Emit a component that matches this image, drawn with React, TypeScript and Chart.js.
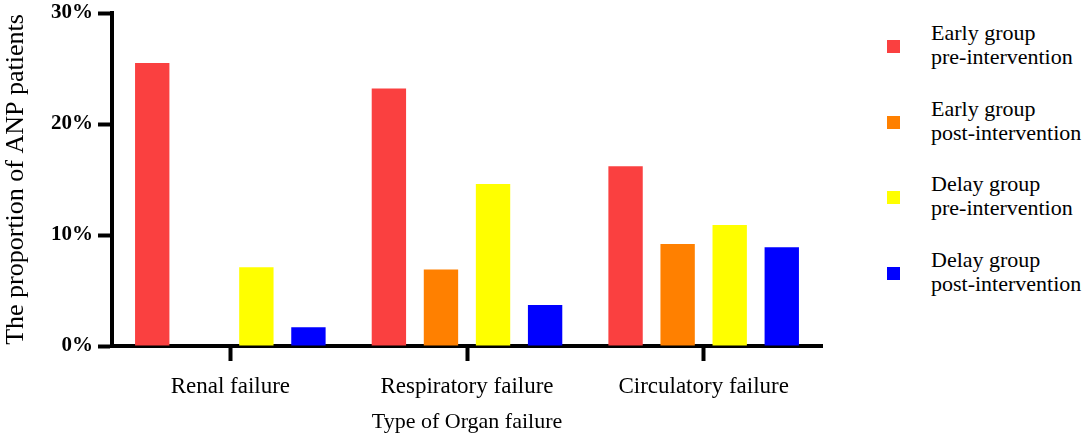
import { useRef, useEffect } from "react";
import Chart from "chart.js/auto";

const categories = ["Renal failure", "Respiratory failure", "Circulatory failure"];
const seriesNames = [
  ["Early group", "pre-intervention"],
  ["Early group", "post-intervention"],
  ["Delay group", "pre-intervention"],
  ["Delay group", "post-intervention"],
];
const earlyPre = [25.5, 23.2, 16.2];
const earlyPost = [0, 6.9, 9.2];
const delayPre = [7.1, 14.6, 10.9];
const delayPost = [1.7, 3.7, 8.9];
const yTicks = [0, 10, 20, 30];
const colors = ["#FA4040", "#FF8000", "#FFFF00", "#0000FF"];

const serif = "Liberation Serif";

const App = () => {
  const chartRef = useRef<HTMLCanvasElement>(null);

  useEffect(() => {
    const values = [earlyPre, earlyPost, delayPre, delayPost];
    const myChart = new Chart(chartRef.current!, {
      type: "bar",
      data: {
        labels: categories,
        datasets: values.map((v, i) => ({
          label: seriesNames[i].join(" "),
          data: v,
          backgroundColor: colors[i],
          barPercentage: 0.66,
          categoryPercentage: 0.88,
        })),
      },
      options: {
        animation: false,
        responsive: false,
        maintainAspectRatio: false,
        layout: { padding: { top: 13, right: 18, left: 0, bottom: 0 } },
        plugins: { legend: { display: false }, tooltip: { enabled: false } },
        scales: {
          x: {
            afterFit: (s: any) => {
              s.height = 90;
            },
            grid: {
              offset: false,
              drawOnChartArea: false,
              tickLength: 15,
              tickWidth: 4,
              tickColor: "#000",
            },
            border: { color: "#000", width: 4 },
            ticks: {
              color: "#000",
              padding: 12,
              font: { family: serif, size: 23 },
            },
            title: {
              display: true,
              text: "Type of Organ failure",
              color: "#000",
              padding: { top: 0, bottom: 1 },
              font: { family: serif, size: 22 },
            },
          },
          y: {
            min: 0,
            max: 30,
            afterFit: (s: any) => {
              s.width = 112;
              s.paddingTop = 0;
            },
            afterBuildTicks: (s: any) => {
              s.ticks = yTicks.map((v) => ({ value: v }));
            },
            grid: {
              drawOnChartArea: false,
              tickLength: 14,
              tickWidth: 4,
              tickColor: "#000",
            },
            border: { color: "#000", width: 4 },
            ticks: {
              color: "#000",
              padding: 5,
              callback: (v: any) => v + "%",
              font: { family: serif, size: 21, weight: "bold", lineHeight: 1 },
            },
            title: {
              display: true,
              text: "The proportion of ANP patients",
              color: "#000",
              padding: { top: 1, bottom: 0 },
              font: { family: serif, size: 26 },
            },
          },
        },
      },
    });

    return () => myChart.destroy();
  }, []);

  return (
    <div style={{ position: "fixed", left: 0, top: 0, width: 1089, height: 436, background: "#fff" }}>
      <canvas ref={chartRef} width={840} height={436} style={{ position: "absolute", left: 0, top: 0 }}></canvas>
      {seriesNames.map((n, i) => (
        <div
          key={i}
          style={{
            position: "absolute",
            left: 887,
            top: 21 + i * 75.5,
            fontFamily: "'Liberation Serif', serif",
            fontSize: 22,
            color: "#000",
          }}
        >
          <div style={{ position: "absolute", left: 0, top: 19, width: 13, height: 13, background: colors[i] }}></div>
          <div style={{ position: "absolute", left: 44, top: 0, lineHeight: "24px", whiteSpace: "nowrap" }}>
            {n[0]}
            <br />
            {n[1]}
          </div>
        </div>
      ))}
    </div>
  );
};

export default App;
